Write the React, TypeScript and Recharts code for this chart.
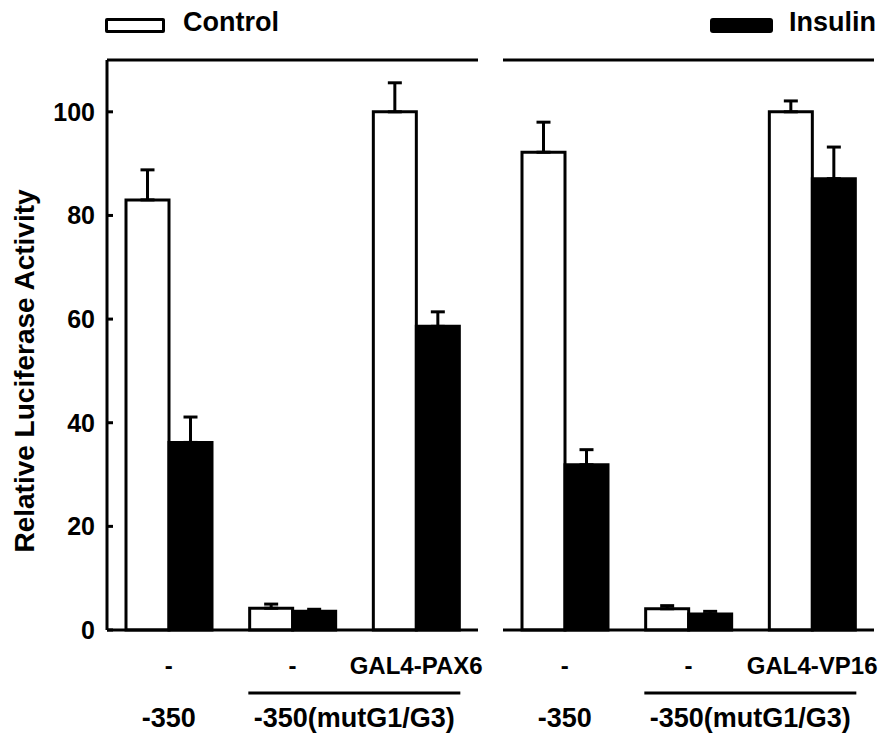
import { Bar, BarChart, ErrorBar, ReferenceLine, XAxis, YAxis } from "recharts"

const leftCategories = ["-", "-", "GAL4-PAX6"]
const rightCategories = ["-", "-", "GAL4-VP16"]
const groupLabels = ["-350", "-350(mutG1/G3)"]

const leftControl = [83, 4.2, 100]
const leftControlErr = [5.8, 0.8, 5.6]
const leftInsulin = [36.2, 3.6, 58.6]
const leftInsulinErr = [4.9, 0.4, 2.8]

const rightControl = [92.2, 4.1, 100]
const rightControlErr = [5.8, 0.6, 2.1]
const rightInsulin = [31.9, 3.1, 87.1]
const rightInsulinErr = [2.9, 0.5, 6.1]

const yTicks = [0, 20, 40, 60, 80, 100]

const font = {
  fontFamily: "'Liberation Sans', Arial, sans-serif",
  fontWeight: 700,
  fontSize: 25,
  fill: "#000",
}

interface PanelProps {
  categories: string[]
  control: number[]
  controlErr: number[]
  insulin: number[]
  insulinErr: number[]
  left: number
  width: number
  plotLeft: number
  plotRight: number
  yAxisWidth: number
  showYLabels: boolean
}

function Panel(p: PanelProps) {
  const data = p.categories.map((name, i) => ({
    name,
    control: p.control[i],
    controlErr: [0, p.controlErr[i]],
    insulin: p.insulin[i],
    insulinErr: [0, p.insulinErr[i]],
  }))
  const band = (p.plotRight - p.plotLeft) / p.categories.length

  const xTick = (props: any) => {
    const { x, payload, index } = props
    const mid = x + band / 2
    return (
      <g>
        <text x={x} y={665} textAnchor="middle" dominantBaseline="central" style={{ ...font, fontSize: 24 }}>
          {payload.value}
        </text>
        {index === 0 && (
          <text x={x} y={718} textAnchor="middle" dominantBaseline="central" style={{ ...font, fontSize: 27 }}>
            {groupLabels[0]}
          </text>
        )}
        {index === 1 && (
          <g>
            <line x1={mid - 106} x2={mid + 106} y1={693} y2={693} stroke="#000" strokeWidth={3} />
            <text x={mid} y={718} textAnchor="middle" dominantBaseline="central" style={{ ...font, fontSize: 27 }}>
              {groupLabels[1]}
            </text>
          </g>
        )}
      </g>
    )
  }

  const leftTick = (props: any) => {
    const { y, payload } = props
    return (
      <g>
        {p.showYLabels && (
          <text x={p.plotLeft - 12} y={y} textAnchor="end" dominantBaseline="central" style={font}>
            {payload.value}
          </text>
        )}
        <line x1={p.plotLeft} x2={p.plotLeft + 6} y1={y} y2={y} stroke="#000" strokeWidth={3} />
      </g>
    )
  }

  const rightTick = (props: any) => {
    const { y } = props
    return <line x1={p.plotRight - 6} x2={p.plotRight} y1={y} y2={y} stroke="#000" strokeWidth={3} />
  }

  const yLabel = (props: any) => (
    <text
      x={34}
      y={371}
      transform="rotate(-90 34 371)"
      textAnchor="middle"
      style={{ ...font, fontSize: 28 }}
    >
      {props.value}
    </text>
  )

  return (
    <div style={{ position: "absolute", left: p.left, top: 0 }}>
      <BarChart
        width={p.width}
        height={733}
        data={data}
        margin={{ top: 60, right: p.width - p.plotRight, bottom: 3, left: p.plotLeft - p.yAxisWidth }}
        barGap={0}
        barSize={43}
      >
        <XAxis
          dataKey="name"
          height={100}
          interval={0}
          tickLine={false}
          axisLine={{ stroke: "#000", strokeWidth: 3 }}
          tick={xTick}
        />
        <YAxis
          width={p.yAxisWidth}
          domain={[0, 110]}
          ticks={yTicks}
          tickLine={false}
          axisLine={{ stroke: "#000", strokeWidth: 3 }}
          tick={leftTick}
          label={p.showYLabels ? { value: "Relative Luciferase Activity", content: yLabel } : undefined}
        />
        <YAxis
          yAxisId="mirror"
          orientation="right"
          width={0}
          domain={[0, 110]}
          ticks={yTicks}
          tickLine={false}
          axisLine={{ stroke: "#000", strokeWidth: 3 }}
          tick={rightTick}
        />
        <ReferenceLine y={110} stroke="#000" strokeWidth={3} />
        <Bar dataKey="control" fill="#fff" stroke="#000" strokeWidth={3} isAnimationActive={false}>
          <ErrorBar dataKey="controlErr" direction="y" width={7} stroke="#000" strokeWidth={3} isAnimationActive={false} />
        </Bar>
        <Bar dataKey="insulin" fill="#000" stroke="#000" strokeWidth={3} isAnimationActive={false}>
          <ErrorBar dataKey="insulinErr" direction="y" width={7} stroke="#000" strokeWidth={3} isAnimationActive={false} />
        </Bar>
      </BarChart>
    </div>
  )
}

export default function App() {
  const legendText = { ...font, fontSize: 27, position: "absolute" as const, top: 7, lineHeight: "30px", color: "#000" }
  return (
    <div style={{ position: "absolute", left: 0, top: 0, width: 889, height: 733, background: "#fff" }}>
      <Panel
        categories={leftCategories}
        control={leftControl}
        controlErr={leftControlErr}
        insulin={leftInsulin}
        insulinErr={leftInsulinErr}
        left={0}
        width={490}
        plotLeft={107}
        plotRight={478}
        yAxisWidth={107}
        showYLabels
      />
      <Panel
        categories={rightCategories}
        control={rightControl}
        controlErr={rightControlErr}
        insulin={rightInsulin}
        insulinErr={rightInsulinErr}
        left={490}
        width={399}
        plotLeft={13}
        plotRight={384}
        yAxisWidth={0}
        showYLabels={false}
      />
      <div
        style={{
          position: "absolute",
          left: 105,
          top: 18,
          width: 60,
          height: 15,
          boxSizing: "border-box",
          border: "3px solid #000",
          borderRadius: 2,
          background: "#fff",
        }}
      />
      <div style={{ ...legendText, left: 183 }}>Control</div>
      <div
        style={{
          position: "absolute",
          left: 710,
          top: 18,
          width: 63,
          height: 15,
          borderRadius: 3,
          background: "#000",
        }}
      />
      <div style={{ ...legendText, left: 789 }}>Insulin</div>
    </div>
  )
}
